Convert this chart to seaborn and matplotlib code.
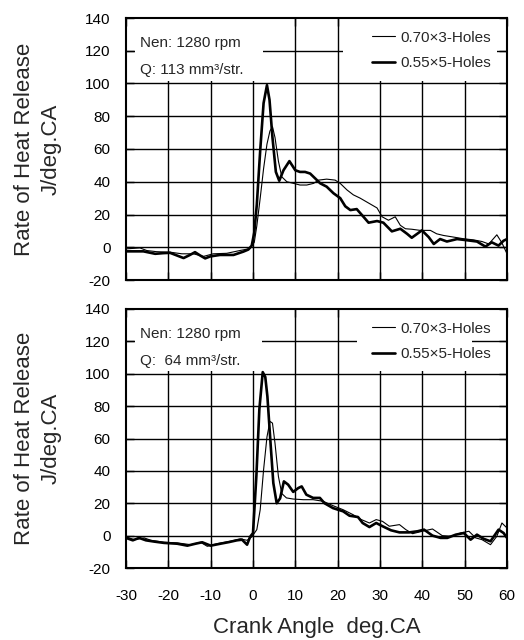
import numpy as np
import pandas as pd
import matplotlib
matplotlib.use("Agg")
import matplotlib.pyplot as plt
from matplotlib.patches import Rectangle
import seaborn as sns

# ---------------- data ----------------
x_ticks = [-30, -20, -10, 0, 10, 20, 30, 40, 50, 60]
y_ticks = [-20, 0, 20, 40, 60, 80, 100, 120, 140]
series_labels = ["0.70\u00d73-Holes", "0.55\u00d75-Holes"]
panel_texts = [("Nen: 1280 rpm", "Q: 113 mm\u00b3/str."),
               ("Nen: 1280 rpm", "Q:  64 mm\u00b3/str.")]

# top panel (Q = 113), thin = 0.70x3, thick = 0.55x5
top_thin_x = [-30, -26.7, -25.1, -22.8, -19.6, -16.8, -14.1, -11.7, -9.4, -6.2, -3.1, -0.7,
              0.3, 0.9, 1.7, 2.5, 3.3, 4.0, 4.6, 5.2, 6.0, 6.8, 8.0, 9.6, 11.1, 12.7, 14.3,
              15.5, 17.4, 19.4, 20.6, 22.2, 23.7, 25.3, 27.3, 29.3, 30.5, 32.0, 33.6, 34.8,
              36.0, 37.5, 39.5, 41.9, 43.4, 45.0, 47.4, 49.7, 52.1, 54.1, 55.7, 57.6, 58.8, 60]
top_thin_y = [-1, -0.4, -2, -2.7, -3, -4, -4, -5.6, -4, -3.7, -2, -0.8,
              3, 13, 30, 48, 63, 71, 73.6, 67, 52.6, 43, 40, 39, 38, 38, 39,
              41, 41.6, 41, 39, 35, 32, 30, 27, 24, 18.6, 16.5, 18.6, 13.4,
              11.3, 11, 10.3, 10.3, 8.2, 7.2, 6.2, 5.2, 4.5, 3.5, 2, 7.6, 2.7, -4]

top_thick_x = [-30, -25.9, -23.1, -21.2, -19.6, -18.0, -16.4, -14.9, -13.7, -12.5, -11.3, -10.1,
               -7.8, -4.6, -2.3, -1.1, -0.3, 0.3, 0.9, 1.7, 2.5, 3.3, 3.9, 4.6, 5.4, 6.2,
               7.2, 8.6, 10.0, 11.1, 12.3, 13.5, 14.7, 15.9, 17.4, 19.0, 20.6, 21.8, 23.0,
               24.5, 26.1, 27.3, 29.3, 30.8, 32.8, 34.8, 36.4, 37.5, 39.9, 41.5, 42.7, 44.2,
               45.8, 48.2, 50.5, 52.9, 54.9, 56.4, 58.0, 59.2, 60]
top_thick_y = [-2.5, -2.5, -4, -3.6, -3.4, -5, -6.6, -4.7, -3, -5, -6.8, -5.6,
               -4.7, -4.7, -2.7, -1.4, 1, 9, 26, 59, 88, 99, 90, 67, 46, 40.6,
               47, 52.6, 47, 46, 46, 45, 42, 39, 37, 33, 30, 25, 22.7,
               23.3, 18.6, 15, 16, 15, 9.7, 11.3, 8.2, 5.8, 10.3, 6.2, 2, 5,
               3.5, 5, 4.3, 3.5, 0.4, 3, 1, 4, 5]

# bottom panel (Q = 64)
bot_thin_x = [-30, -28.0, -25.7, -24.1, -21.0, -17.9, -14.7, -12.4, -10.8, -8.5, -5.4, -3.0,
              -1.4, -0.3, 0.9, 1.7, 2.5, 3.3, 4.0, 4.6, 5.2, 6.0, 6.8, 7.9, 9.5, 11.9,
              14.2, 16.6, 18.9, 21.3, 23.6, 25.6, 27.5, 29.1, 30.6, 32.2, 34.6, 36.1, 37.7,
              40.0, 42.4, 44.7, 47.1, 49.0, 51.0, 52.6, 54.1, 56.1, 57.6, 58.8, 60]
bot_thin_y = [-0.8, -2.5, -1.4, -2.9, -4.1, -4.5, -5.6, -4.1, -6.6, -5, -3.5, -2,
              -2.9, -0.8, 3.7, 16, 40.7, 61, 70.6, 69.5, 57, 36.6, 26, 23.3, 22.6, 22.2,
              22.2, 21.2, 18.5, 16, 13, 9.9, 7.8, 9.9, 8.8, 5.8, 6.8, 3.7, 1.2,
              2.7, 4.1, 0, -0.4, 1.6, 2.7, -1.4, -2.5, -5.6, -0.4, 7.8, 4.7]

bot_thick_x = [-30, -28.4, -26.9, -25.3, -23.3, -21.0, -17.9, -15.5, -13.6, -12.0, -10.0, -7.7,
               -5.7, -3.8, -2.6, -1.4, -0.7, 0.0, 0.8, 1.5, 2.3, 2.9, 3.4, 4.2, 4.8, 5.6,
               6.4, 7.3, 8.3, 9.5, 10.7, 11.5, 12.6, 14.2, 15.8, 16.9, 18.9, 21.3, 22.8,
               24.8, 25.9, 27.5, 29.1, 30.6, 32.6, 34.6, 36.9, 38.9, 40.4, 42.4, 44.3, 45.9,
               47.9, 49.8, 51.4, 52.9, 54.5, 56.1, 58.0, 59.2, 60]
bot_thick_y = [-1.4, -2.9, -1.4, -2.9, -3.7, -4.5, -5, -6.2, -5, -4.1, -6.2, -5,
               -4, -2.9, -2.5, -5.6, -0.8, 1.6, 37, 78, 101, 98, 86, 55, 32.5, 20,
               23, 33.5, 31.5, 27, 29.4, 30.4, 25.3, 23.3, 23.3, 20, 17, 15, 12.3,
               11.5, 7.8, 5.3, 7.8, 5.8, 3.3, 2, 2, 2.7, 3.7, 0, -1.4, -1.4,
               0.6, 1.6, -2.5, 0.6, -2, -3.5, 3.7, 1.6, -1.4]

panels = [
    (top_thin_x, top_thin_y, top_thick_x, top_thick_y),
    (bot_thin_x, bot_thin_y, bot_thick_x, bot_thick_y),
]

# ---------------- style ----------------
sns.set_style("ticks")
plt.rcParams["font.family"] = ["Liberation Sans", "DejaVu Sans"]
plt.rcParams["axes.unicode_minus"] = False

W, H = 524, 640
fig = plt.figure(figsize=(W / 100, H / 100), dpi=100)

# axes rectangles in pixels: (left, top, right, bottom)
rects = [(126, 18, 507, 280), (126, 309, 507, 568)]
# white boxes behind annotations / legend (axes fraction)
boxes = [
    [(0.024, 0.76, 0.336, 0.24), (0.57, 0.76, 0.404, 0.24)],
    [(0.024, 0.76, 0.333, 0.24), (0.606, 0.76, 0.302, 0.24)],
]

for i, (l, t, r, b) in enumerate(rects):
    ax = fig.add_axes([l / W, 1 - b / H, (r - l) / W, (b - t) / H])
    tx, ty, kx, ky = panels[i]
    df_thin = pd.DataFrame({"x": tx, "y": ty})
    df_thick = pd.DataFrame({"x": kx, "y": ky})
    sns.lineplot(data=df_thin, x="x", y="y", ax=ax, color="black", linewidth=0.8,
                 label=series_labels[0], sort=False, estimator=None, zorder=3)
    sns.lineplot(data=df_thick, x="x", y="y", ax=ax, color="black", linewidth=1.9,
                 label=series_labels[1], sort=False, estimator=None, zorder=3)

    ax.set_xlim(-30, 60)
    ax.set_ylim(-20, 140)
    ax.set_xticks(x_ticks)
    ax.set_yticks(y_ticks)
    ax.set_yticklabels([str(v) for v in y_ticks])
    ax.grid(False)
    for v in x_ticks[1:-1]:
        ax.axvline(v, color="black", lw=1.0, zorder=1.5)
    for v in y_ticks[1:-1]:
        ax.axhline(v, color="black", lw=1.0, zorder=1.5)
    for (bx, by, bw, bh) in boxes[i]:
        ax.add_patch(Rectangle((bx, by), bw, bh, transform=ax.transAxes,
                               facecolor="white", edgecolor="none", zorder=2))

    for s in ax.spines.values():
        s.set_linewidth(1.5)
        s.set_color("black")
    ax.tick_params(direction="in", length=6, width=1.0, top=True, right=True,
                   labelsize=11, colors="black")
    ax.tick_params(axis="y", pad=11)
    ax.tick_params(axis="x", pad=15)
    if i == 0:
        ax.tick_params(axis="x", labelbottom=False)
        ax.set_xlabel("")
    else:
        ax.set_xlabel("Crank Angle  deg.CA", fontsize=16, labelpad=10)

    ax.set_ylabel("Rate of Heat Release\nJ/deg.CA", fontsize=16, linespacing=1.3)
    ax.yaxis.set_label_coords(-0.17, 0.5)

    line1, line2 = panel_texts[i]
    ax.text(0.037, 0.905, line1, transform=ax.transAxes, fontsize=11,
            va="center", ha="left", zorder=4)
    ax.text(0.037, 0.80, line2, transform=ax.transAxes, fontsize=11,
            va="center", ha="left", zorder=4)

    leg = ax.legend(loc="upper right", bbox_to_anchor=(0.975, 0.975), frameon=False,
                    fontsize=11, handlelength=1.5, handletextpad=0.4,
                    labelspacing=0.75, borderaxespad=0.0)
    leg.set_zorder(4)

fig.savefig("out.png", dpi=100)
